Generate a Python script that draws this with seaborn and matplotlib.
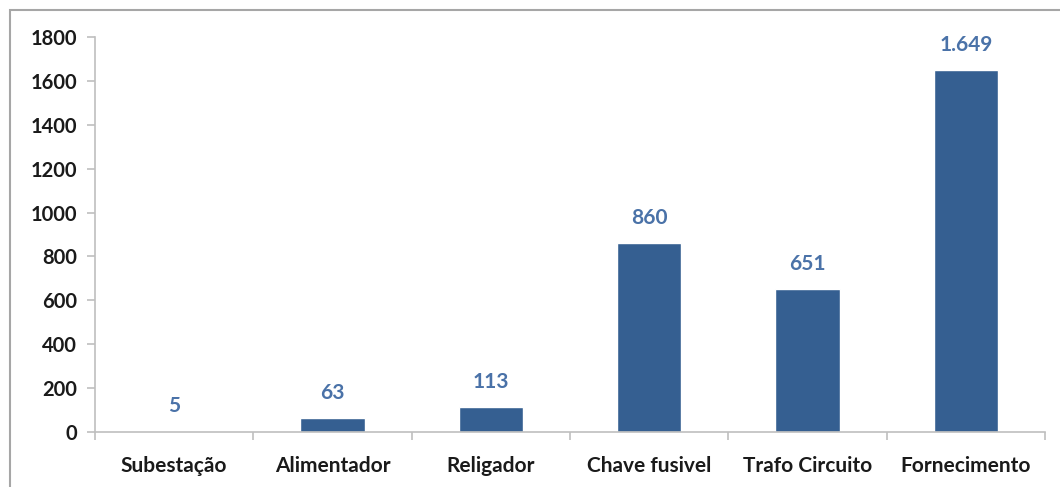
import matplotlib
matplotlib.use("Agg")
import matplotlib.pyplot as plt
import seaborn as sns
import pandas as pd
from matplotlib.patches import Rectangle

categories = ["Subestação", "Alimentador", "Religador", "Chave fusivel", "Trafo Circuito", "Fornecimento"]
values = [5, 63, 113, 860, 651, 1649]
yticks = [0, 200, 400, 600, 800, 1000, 1200, 1400, 1600, 1800]

bar_color = "#355f91"
label_color = "#4a72a8"
axis_gray = "#bfbfbf"

sns.set_theme(style="white")
plt.rcParams["font.family"] = ["Lato", "DejaVu Sans"]

df = pd.DataFrame({"categoria": categories, "valor": values})

fig = plt.figure(figsize=(10.6, 4.87), dpi=100)
ax = fig.add_axes([95 / 1060, 55 / 487, (1045 - 95) / 1060, (432 - 37) / 487])

sns.barplot(data=df, x="categoria", y="valor", color=bar_color, width=0.405,
            saturation=1, ax=ax)

ax.set_ylim(0, 1800)
ax.set_xlim(-0.5, len(categories) - 0.5)
ax.set_yticks(yticks)
ax.set_yticklabels([str(t) for t in yticks], fontsize=14.5, fontweight="bold", color="#1a1a1a")
ax.set_xticks(range(len(categories)))
ax.set_xticklabels(categories, fontsize=15, fontweight="bold", color="#1a1a1a")
ax.set_xlabel("")
ax.set_ylabel("")

# category separators on the x axis
ax.set_xticks([i - 0.5 for i in range(len(categories) + 1)], minor=True)
ax.tick_params(axis="x", which="major", bottom=False, length=0, pad=17)
ax.tick_params(axis="x", which="minor", bottom=True, length=6, width=1.2,
               color=axis_gray, direction="out")
ax.tick_params(axis="y", which="major", left=True, length=6, width=1.2,
               color=axis_gray, direction="out", pad=7)

for side in ["top", "right"]:
    ax.spines[side].set_visible(False)
for side in ["left", "bottom"]:
    ax.spines[side].set_color(axis_gray)
    ax.spines[side].set_linewidth(1.2)

# value labels, thousands separated with a dot
for i, v in enumerate(values):
    txt = f"{v:,}".replace(",", ".")
    ax.annotate(txt, xy=(i, v), xytext=(0, 11), textcoords="offset points",
                ha="center", va="bottom", fontsize=15, fontweight="bold", color=label_color)

# outer chart frame
fig.patches.append(Rectangle((10 / 1060, -0.05), 1.1, (487 - 10) / 487 + 0.05,
                             transform=fig.transFigure, fill=False,
                             edgecolor="#a6a6a6", linewidth=1.5))

fig.savefig("out.png", dpi=100)
